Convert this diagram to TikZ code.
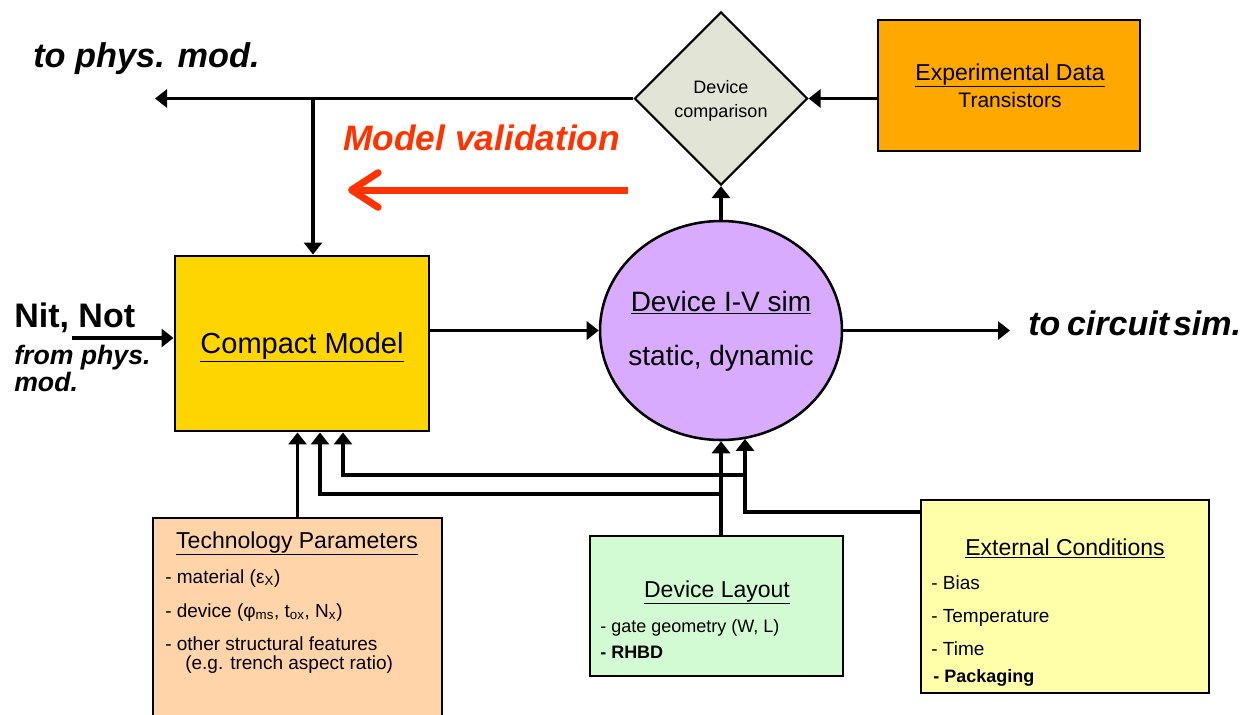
\documentclass[tikz,border=0pt]{standalone}
\usepackage{fontspec}
\setmainfont{Liberation Sans}
\usetikzlibrary{shapes.geometric,arrows.meta}
\definecolor{mvred}{HTML}{FF3300}
\definecolor{cmgold}{HTML}{FFD500}
\definecolor{lav}{HTML}{D8ABFF}
\definecolor{diag}{HTML}{E2E5D5}
\definecolor{expor}{HTML}{FFA800}
\definecolor{techpeach}{HTML}{FFD4A8}
\definecolor{dlgreen}{HTML}{D3FBD3}
\definecolor{extyel}{HTML}{FFFFAA}
\begin{document}
\begin{tikzpicture}[x=0.75pt,y=-0.75pt,
  box/.style={draw, line width=2.2pt, inner sep=0pt, rectangle},
  conn/.style={line width=2.6pt},
  arr/.style={conn, -{Triangle[length=9pt,width=13.5pt]}},
  txt/.style={inner sep=0pt, anchor=base west},
  ctxt/.style={inner sep=0pt, anchor=base},
  fbig/.style={font=\fontsize{25.75pt}{28pt}\selectfont\bfseries\itshape},
  ftitle/.style={font=\fontsize{17.25pt}{20pt}\selectfont},
  fitem/.style={font=\fontsize{14.25pt}{17pt}\selectfont}
]
\useasboundingbox (0,0) rectangle (1253,714);

% shapes
\node[box, fill=cmgold, minimum width=190.5pt, minimum height=131.25pt] (cm) at (302,343.5) {};
\node[draw, line width=1.9pt, ellipse, fill=lav, minimum width=181.5pt, minimum height=164.25pt, inner sep=0pt] (ell) at (721,330.5) {};
\node[draw, line width=1.6pt, diamond, fill=diag, minimum width=129.75pt, minimum height=129.75pt, inner sep=0pt] (dia) at (721,98.5) {};
\node[box, fill=expor, minimum width=196.5pt, minimum height=98.25pt] (exp) at (1009,85.5) {};
\node[box, fill=techpeach, minimum width=216.75pt, minimum height=180pt] (tp) at (297.5,638) {};
\node[box, fill=dlgreen, minimum width=189.75pt, minimum height=105pt] (dl) at (716.5,606) {};
\node[box, fill=extyel, minimum width=216pt, minimum height=144.75pt] (ext) at (1065,596.5) {};

% connectors
\coordinate (physout) at (155,98.5);
\coordinate (j1) at (313,98.5);
\draw[arr] (dia.west) -- (dia.west -| physout);
\draw[arr] (j1) -- (j1 |- cm.north);
\draw[arr] (exp.west |- dia.east) -- (dia.east);
\draw[arr] (ell.north) -- (dia.south);
\draw[arr] (cm.east |- ell.west) -- (ell.west);
\coordinate (nitstart) at (72,338);
\draw[arr] (nitstart) -- (nitstart -| cm.west);
\coordinate (circout) at (1010,330.5);
\draw[arr] (ell.east) -- (ell.east -| circout);
\draw[arr] (tp.north) -- (tp.north |- cm.south);
\coordinate (b2) at (320,494);
\draw[arr] (dl.north -| ell.south) -- (ell.south);
\draw[arr] (ell.south |- b2) -- (b2) -- (b2 |- cm.south);
\coordinate (e1) at (745,512);
\coordinate (e2) at (343,475);
\draw[arr] (ext.west |- e1) -- (e1) -- (e1 |- ell.-77.4);
\draw[arr] (e1 |- e2) -- (e2) -- (e2 |- cm.south);

% red arrow
\coordinate (mvs) at (628,190);
\coordinate (mve) at (348,190);
\draw[line width=5.25pt, color=mvred, -{Straight Barb[length=20pt,width=26pt,round]}] (mvs) -- (mve);

% texts
\node[txt, fbig] (tophys) at (33,67) {to phys. mod.};
\node[txt, font=\fontsize{26.5pt}{28pt}\selectfont\bfseries\itshape, text=mvred] (mv) at (343,150) {Model validation};
\node[ctxt, font=\fontsize{13.5pt}{16pt}\selectfont] (dc1) at (721,93) {Device};
\node[ctxt, font=\fontsize{13.5pt}{16pt}\selectfont] (dc2) at (721,117) {comparison};
\node[ctxt, ftitle] (ed1) at (1010,80) {\underline{Experimental Data}};
\node[ctxt, font=\fontsize{15.75pt}{18pt}\selectfont] (ed2) at (1010,107) {Transistors};
\node[ctxt, font=\fontsize{21.75pt}{25pt}\selectfont] (cmt) at (302,353) {\underline{Compact Model}};
\node[txt, font=\fontsize{25.5pt}{28pt}\selectfont\bfseries] (nit) at (14,327) {Nit, Not};
\node[txt, font=\fontsize{20pt}{22pt}\selectfont\bfseries\itshape] (from1) at (14,364) {from phys.};
\node[txt, font=\fontsize{20pt}{22pt}\selectfont\bfseries\itshape] (from2) at (14,391) {mod.};
\node[ctxt, font=\fontsize{21pt}{25pt}\selectfont] (iv1) at (721,311) {\underline{Device I-V sim}};
\node[ctxt, font=\fontsize{21pt}{25pt}\selectfont] (iv2) at (721,365) {static, dynamic};
\node[txt, font=\fontsize{25.5pt}{28pt}\selectfont\bfseries\itshape] (circ) at (1028,335) {to\hspace{5pt}circuit\hspace{3pt}sim.};
\node[ctxt, ftitle] (tpt) at (297,548) {\underline{Technology Parameters}};
\node[txt, fitem] (tp1) at (165,583) {- material (ε\textsubscript{X})};
\node[txt, fitem] (tp2) at (165,617) {- device (φ\textsubscript{ms}, t\textsubscript{ox}, N\textsubscript{x})};
\node[txt, fitem] (tp3) at (165,650) {- other structural features};
\node[txt, fitem] (tp4) at (185,669) {(e.g. trench aspect ratio)};
\node[ctxt, ftitle] (dlt) at (717,597) {\underline{Device Layout}};
\node[txt, font=\fontsize{13.5pt}{16pt}\selectfont] (dl1) at (600,632) {- gate geometry (W, L)};
\node[txt, font=\fontsize{13.5pt}{16pt}\selectfont\bfseries] (dl2) at (600,658) {- RHBD};
\node[ctxt, ftitle] (extt) at (1065,555) {\underline{External Conditions}};
\node[txt, fitem] (ex1) at (931,589) {- Bias};
\node[txt, fitem] (ex2) at (931,622) {- Temperature};
\node[txt, fitem] (ex3) at (931,655) {- Time};
\node[txt, font=\fontsize{13.5pt}{16pt}\selectfont\bfseries] (ex4) at (933,682) {- Packaging};
\end{tikzpicture}
\end{document}
